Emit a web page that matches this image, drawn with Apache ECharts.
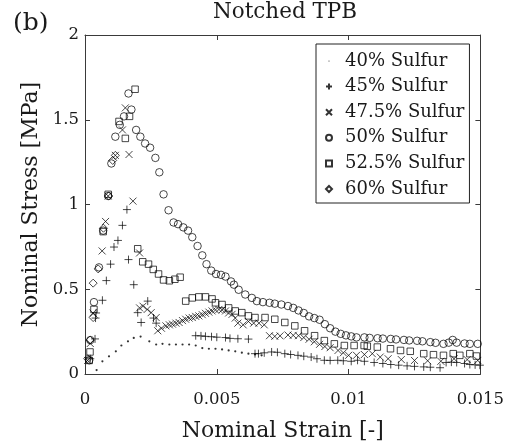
<!DOCTYPE html>
<html>
<head>
<meta charset="utf-8">
<script src="https://cdn.jsdelivr.net/npm/echarts@6/dist/echarts.min.js"></script>
<style>html,body{margin:0;padding:0;background:#fff}#c{width:507px;height:447px}</style>
</head>
<body>
<div id="c"></div>
<script>
// ---- data (strain [-], stress [MPa]) ----
const seriesNames = ['40% Sulfur', '45% Sulfur', '47.5% Sulfur', '50% Sulfur', '52.5% Sulfur', '60% Sulfur'];
const xTicks = [0, 0.005, 0.01, 0.015];
const xTickLabels = ['0', '0.005', '0.01', '0.015'];
const yTicks = [0, 0.5, 1, 1.5, 2];
const yTickLabels = ['0', '0.5', '1', '1.5', '2'];

const sulfur40 = [[0.00044,0.023],[0.00066,0.075],[0.00091,0.104],[0.00117,0.134],[0.00138,0.168],[0.00163,0.193],[0.00185,0.213],[0.00211,0.221],[0.00244,0.193],[0.0027,0.174],[0.00294,0.178],[0.0032,0.174],[0.00345,0.174],[0.0037,0.174],[0.00395,0.174],[0.0042,0.168],[0.00445,0.153],[0.0047,0.149],[0.00495,0.149],[0.0052,0.145],[0.00545,0.139],[0.0057,0.134],[0.00595,0.126],[0.0062,0.12],[0.00645,0.115],[0.0067,0.11]];

const sulfur45 = [[0.0002,0.09],[0.00038,0.207],[0.0004,0.33],[0.00042,0.36],[0.00066,0.435],[0.00081,0.551],[0.00097,0.648],[0.0011,0.749],[0.00125,0.788],[0.00142,0.877],[0.00159,0.97],[0.00165,0.675],[0.00185,0.527],[0.002,0.362],[0.00213,0.304],[0.00238,0.43],[0.0026,0.33],[0.0027,0.30],[0.0042,0.226],[0.0044,0.225],[0.00457,0.222],[0.0048,0.22],[0.005,0.217],[0.00533,0.215],[0.0055,0.21],[0.0058,0.208],[0.0062,0.206],[0.00645,0.12],[0.00658,0.12],[0.0068,0.125],[0.00708,0.13],[0.0073,0.128],[0.00758,0.12],[0.0078,0.115],[0.00808,0.11],[0.0083,0.105],[0.00858,0.10],[0.0088,0.09],[0.00908,0.081],[0.0093,0.08],[0.00959,0.081],[0.0098,0.078],[0.0101,0.075],[0.01034,0.081],[0.0106,0.075],[0.01097,0.068],[0.0113,0.062],[0.0116,0.056],[0.0119,0.052],[0.01222,0.048],[0.0125,0.045],[0.01285,0.042],[0.0131,0.04],[0.01347,0.037],[0.0137,0.068],[0.0139,0.07],[0.0141,0.068],[0.0144,0.062],[0.0146,0.056],[0.0148,0.054],[0.01498,0.052]];

const sulfur475 = [[0.0001,0.08],[0.0002,0.18],[0.0003,0.36],[0.00065,0.726],[0.00078,0.90],[0.00088,1.05],[0.00115,1.29],[0.00142,1.44],[0.00153,1.57],[0.00167,1.295],[0.00182,1.02],[0.00207,0.714],[0.00207,0.39],[0.0022,0.40],[0.00236,0.381],[0.00251,0.362],[0.0027,0.333],[0.00276,0.255],[0.0029,0.27],[0.00307,0.284],[0.0032,0.29],[0.00332,0.294],[0.00345,0.30],[0.00357,0.304],[0.0037,0.315],[0.00382,0.323],[0.00395,0.33],[0.00407,0.333],[0.0042,0.34],[0.00432,0.343],[0.00445,0.35],[0.00457,0.358],[0.0047,0.365],[0.00482,0.372],[0.00495,0.378],[0.00508,0.381],[0.0052,0.378],[0.00533,0.372],[0.00545,0.36],[0.00558,0.352],[0.0057,0.33],[0.0058,0.30],[0.006,0.29],[0.0062,0.31],[0.0064,0.30],[0.0066,0.30],[0.0068,0.29],[0.007,0.226],[0.0072,0.222],[0.0074,0.225],[0.0077,0.23],[0.0079,0.228],[0.0081,0.226],[0.0083,0.215],[0.0085,0.205],[0.0087,0.19],[0.0089,0.175],[0.0091,0.162],[0.0093,0.155],[0.0096,0.139],[0.0098,0.125],[0.01,0.11],[0.0103,0.11],[0.0106,0.115],[0.0109,0.12],[0.0112,0.10],[0.0115,0.09],[0.012,0.085],[0.0125,0.08],[0.013,0.078],[0.0135,0.075],[0.014,0.09],[0.0145,0.085],[0.0149,0.08]];

const sulfur50 = [[0.00016,0.081],[0.0002,0.2],[0.00034,0.424],[0.00053,0.629],[0.00069,0.846],[0.00088,1.05],[0.001,1.242],[0.00115,1.40],[0.00132,1.47],[0.00148,1.52],[0.00165,1.655],[0.00176,1.56],[0.00194,1.44],[0.0021,1.40],[0.00228,1.36],[0.00247,1.335],[0.00267,1.275],[0.00282,1.19],[0.00298,1.06],[0.00317,0.966],[0.00336,0.894],[0.00353,0.884],[0.00373,0.865],[0.00391,0.846],[0.00407,0.807],[0.00427,0.755],[0.00445,0.70],[0.00461,0.648],[0.00479,0.61],[0.00497,0.59],[0.00516,0.585],[0.00533,0.575],[0.00554,0.546],[0.00565,0.527],[0.00583,0.497],[0.00608,0.469],[0.00633,0.449],[0.00652,0.43],[0.00675,0.424],[0.007,0.42],[0.0072,0.415],[0.00745,0.41],[0.0077,0.401],[0.0079,0.39],[0.0081,0.375],[0.0083,0.36],[0.0085,0.34],[0.0087,0.33],[0.0089,0.32],[0.0091,0.294],[0.0093,0.27],[0.0095,0.25],[0.0097,0.237],[0.0099,0.228],[0.0101,0.222],[0.0103,0.216],[0.0106,0.216],[0.0108,0.213],[0.0111,0.211],[0.0113,0.209],[0.0116,0.207],[0.0118,0.204],[0.0121,0.201],[0.0123,0.198],[0.0126,0.196],[0.0128,0.193],[0.0131,0.188],[0.0133,0.184],[0.0136,0.178],[0.0138,0.185],[0.01395,0.201],[0.0141,0.185],[0.0144,0.18],[0.0146,0.178],[0.0149,0.178]];

const sulfur525 = [[0.00016,0.08],[0.00019,0.13],[0.00034,0.381],[0.00069,0.84],[0.00088,1.06],[0.00129,1.49],[0.00153,1.39],[0.00169,1.52],[0.0019,1.68],[0.002,0.739],[0.00219,0.662],[0.00241,0.648],[0.00259,0.617],[0.00279,0.59],[0.00298,0.555],[0.0032,0.55],[0.00341,0.559],[0.00361,0.571],[0.00382,0.43],[0.00407,0.449],[0.00432,0.455],[0.00457,0.455],[0.00482,0.443],[0.00495,0.42],[0.0052,0.41],[0.00545,0.39],[0.0057,0.372],[0.00595,0.362],[0.0062,0.343],[0.00645,0.333],[0.00683,0.333],[0.0072,0.323],[0.00758,0.304],[0.00796,0.284],[0.00833,0.255],[0.00871,0.226],[0.00908,0.197],[0.00946,0.178],[0.00984,0.168],[0.01021,0.168],[0.01059,0.168],[0.01071,0.164],[0.01109,0.159],[0.01159,0.149],[0.01197,0.139],[0.01234,0.134],[0.01285,0.12],[0.01322,0.114],[0.0136,0.11],[0.01397,0.12],[0.01422,0.11],[0.0146,0.12],[0.01485,0.106]];

const sulfur60 = [[0.0001,0.09],[0.00019,0.2],[0.00031,0.333],[0.00031,0.536],[0.0005,0.62],[0.0007,0.86],[0.0009,1.05],[0.00105,1.26],[0.00115,1.29]];

// ---- rendering ----
const FONT = 'DejaVu Serif';
const TXT = '#1a1a1a';
const AX = '#3a3a3a';
const plusPath = 'path://M5,0L5,10M0,5L10,5';
const crossPath = 'path://M0,0L10,10M10,0L0,10';
const dotIcon = 'path://M0,0M10,10M4,5A1,1,0,1,1,6,5A1,1,0,1,1,4,5Z';
const circleIcon = 'path://M10,5A5,5,0,1,1,0,5A5,5,0,1,1,10,5Z';
const rectIcon = 'path://M0,0L10,0L10,10L0,10Z';
const diamondIcon = 'path://M5,0L10,5L5,10L0,5Z';

const seriesData = [sulfur40, sulfur45, sulfur475, sulfur50, sulfur525, sulfur60];
const symbols = ['circle', plusPath, crossPath, 'circle', 'rect', 'diamond'];
const sizes = [2.2, 8, 7, 7.5, 6.5, 8];
const legendIcons = [dotIcon, plusPath, crossPath, circleIcon, rectIcon, diamondIcon];

const hollow = {color: 'rgba(0,0,0,0)', borderColor: '#000', borderWidth: 0.9};
const series = seriesData.map((d, i) => ({
  name: seriesNames[i],
  type: 'scatter',
  xAxisIndex: 0, yAxisIndex: 0,
  data: d,
  symbol: symbols[i],
  symbolSize: sizes[i],
  itemStyle: i === 0 ? {color: '#000', borderWidth: 0} : hollow,
  emphasis: {disabled: true},
  silent: true,
  z: 2
}));

function fmt(ticks, labels) {
  return v => {
    for (let k = 0; k < ticks.length; k++) if (Math.abs(v - ticks[k]) < 1e-9) return labels[k];
    return '';
  };
}
const commonAxis = {
  axisLine: {show: true, onZero: false, lineStyle: {color: AX, width: 1}},
  axisTick: {show: true, inside: true, length: 5, lineStyle: {color: AX, width: 1}},
  splitLine: {show: false}
};
const xBase = Object.assign({type: 'value', min: xTicks[0], max: xTicks[xTicks.length - 1], interval: xTicks[1] - xTicks[0]}, commonAxis);
const yBase = Object.assign({type: 'value', min: yTicks[0], max: yTicks[yTicks.length - 1], interval: yTicks[1] - yTicks[0]}, commonAxis);

const chart = echarts.init(document.getElementById('c'), null, {renderer: 'canvas'});
chart.setOption({
  animation: false,
  backgroundColor: '#fff',
  grid: {left: 85, right: 23, top: 35, bottom: 68},
  xAxis: [
    Object.assign({}, xBase, {
      position: 'bottom',
      axisLabel: {show: true, margin: 17, fontFamily: FONT, fontSize: 16.5, color: TXT, formatter: fmt(xTicks, xTickLabels), showMinLabel: true, showMaxLabel: true},
      name: 'Nominal Strain [-]', nameLocation: 'middle', nameGap: 46,
      nameTextStyle: {fontFamily: FONT, fontSize: 22, color: TXT}
    }),
    Object.assign({}, xBase, {position: 'top', axisLabel: {show: false}})
  ],
  yAxis: [
    Object.assign({}, yBase, {
      position: 'left',
      axisLabel: {show: true, margin: 6, fontFamily: FONT, fontSize: 16.5, color: TXT, formatter: fmt(yTicks, yTickLabels), showMinLabel: true, showMaxLabel: true},
      name: 'Nominal Stress [MPa]', nameLocation: 'middle', nameGap: 42, nameRotate: 90,
      nameTextStyle: {fontFamily: FONT, fontSize: 22, color: TXT}
    }),
    Object.assign({}, yBase, {position: 'right', axisLabel: {show: false}})
  ],
  legend: {
    data: seriesNames.map((n, i) => ({name: n, icon: legendIcons[i]})),
    orient: 'vertical', left: 316, top: 44,
    padding: [7, 5, 4, 9],
    itemWidth: 22, itemHeight: 6, itemGap: 5.6,
    borderColor: '#222', borderWidth: 1, backgroundColor: '#fff',
    selectedMode: false,
    textStyle: {fontFamily: FONT, fontSize: 18, color: TXT, lineHeight: 20},
    z: 10
  },
  graphic: [
    {type: 'text', x: 285, y: 12, z: 10, style: {text: 'Notched TPB', fill: TXT, font: '21.5px "DejaVu Serif"', textAlign: 'center', textVerticalAlign: 'middle'}},
    {type: 'text', x: 13, y: 23, z: 10, style: {text: '(b)', fill: TXT, font: '25px "DejaVu Serif"', textAlign: 'left', textVerticalAlign: 'middle'}}
  ],
  series: series
});
</script>
</body>
</html>
